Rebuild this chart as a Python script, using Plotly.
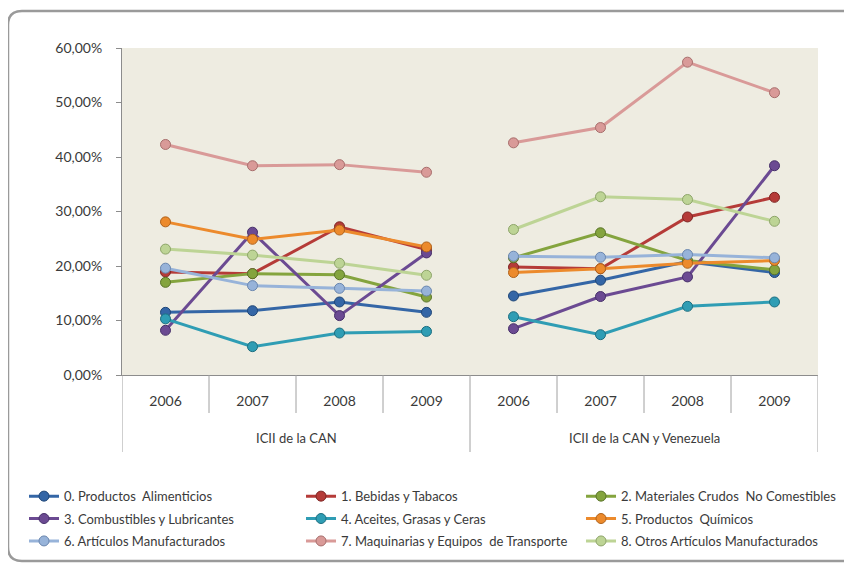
import plotly.graph_objects as go

# ---------------- data ----------------
years = ["2006", "2007", "2008", "2009"]
groups = ["ICII de la CAN", "ICII de la CAN y Venezuela"]

names = [
    "0. Productos  Alimenticios",
    "1. Bebidas y Tabacos",
    "2. Materiales Crudos  No Comestibles",
    "3. Combustibles y Lubricantes",
    "4. Aceites, Grasas y Ceras",
    "5. Productos  Químicos",
    "6. Artículos Manufacturados",
    "7. Maquinarias y Equipos  de Transporte",
    "8. Otros Artículos Manufacturados",
]

# values (%) : first 4 = ICII de la CAN, last 4 = ICII de la CAN y Venezuela
alimenticios = [11.5, 11.8, 13.4, 11.5, 14.5, 17.4, 20.8, 18.8]
bebidas = [18.9, 18.6, 27.2, 23.0, 19.8, 19.5, 29.0, 32.6]
materiales = [17.0, 18.6, 18.4, 14.3, 21.5, 26.1, 21.0, 19.3]
combustibles = [8.2, 26.2, 10.9, 22.4, 8.5, 14.4, 18.0, 38.4]
aceites = [10.3, 5.2, 7.7, 8.0, 10.7, 7.4, 12.6, 13.4]
quimicos = [28.1, 24.9, 26.6, 23.5, 18.8, 19.5, 20.5, 21.0]
articulos = [19.6, 16.4, 15.9, 15.4, 21.8, 21.6, 22.1, 21.5]
maquinarias = [42.3, 38.4, 38.6, 37.2, 42.6, 45.4, 57.4, 51.8]
otros = [23.1, 22.0, 20.5, 18.3, 26.7, 32.7, 32.2, 28.2]

series = [alimenticios, bebidas, materiales, combustibles, aceites,
          quimicos, articulos, maquinarias, otros]

colors = ["#3466A6", "#B53B38", "#84A43E", "#6B4A92", "#2F9DB4",
          "#EC8A2C", "#97B3D9", "#D99A98", "#BDD495"]
edge = ["#1F4677", "#7E2523", "#5A7428", "#47306A", "#1C6E80",
        "#B0621A", "#6A86AE", "#A86E6C", "#8EA56A"]

y_ticks = [0, 10, 20, 30, 40, 50, 60]
y_tick_labels = [f"{v:.2f}%".replace(".", ",") for v in y_ticks]

# ---------------- figure ----------------
n_years = len(years)
positions = list(range(n_years * len(groups)))
tick_text = years * len(groups)

fig = go.Figure()
legend_ids = ["legend", "legend2", "legend3"]
for i, (nm, vals) in enumerate(zip(names, series)):
    for g in range(len(groups)):
        xs = positions[g * n_years:(g + 1) * n_years]
        ys = vals[g * n_years:(g + 1) * n_years]
        fig.add_trace(go.Scatter(
            x=xs, y=ys, name=nm, mode="lines+markers",
            line=dict(color=colors[i], width=3),
            marker=dict(size=10, color=colors[i],
                        line=dict(color=edge[i], width=1)),
            legendgroup=nm, showlegend=(g == 0),
            legend=legend_ids[i % 3],
        ))

# category table lines (year separators and group dividers)
shapes = []
for k in range(len(positions) + 1):
    b = k - 0.5
    is_group = (k % n_years == 0)
    shapes.append(dict(type="line", xref="x", yref="paper",
                       x0=b, x1=b, y0=0, y1=(-0.2355 if is_group else -0.1162),
                       line=dict(color="#A0A0A0", width=1)))

# outer rounded frame (right side runs past the visible page, as in the original)
X0, X1, Y0, Y1, r = -114, 780, -186, 364, 14
path = (f"M {X0 + r},{Y1} L {X1 - r},{Y1} Q {X1},{Y1} {X1},{Y1 - r} "
        f"L {X1},{Y0 + r} Q {X1},{Y0} {X1 - r},{Y0} L {X0 + r},{Y0} "
        f"Q {X0},{Y0} {X0},{Y0 + r} L {X0},{Y1 - r} Q {X0},{Y1} {X0 + r},{Y1} Z")
shapes.append(dict(type="path", path=path, xref="paper", yref="paper",
                   xsizemode="pixel", ysizemode="pixel", xanchor=0, yanchor=0,
                   line=dict(color="#9A9A9A", width=2.5), layer="below"))

annotations = []
for g, gname in enumerate(groups):
    center = (positions[g * n_years] + positions[(g + 1) * n_years - 1]) / 2
    annotations.append(dict(x=center, y=-0.193, xref="x", yref="paper",
                            text=gname, showarrow=False, yanchor="middle",
                            font=dict(family="Lato", size=13, color="#3A3A3A")))

legend_common = dict(orientation="v", yanchor="top", xanchor="left",
                     font=dict(family="Lato", size=13, color="#3A3A3A"),
                     bgcolor="rgba(0,0,0,0)", tracegroupgap=2.5, itemwidth=30)

# page body has an 8px margin: figure is sized/offset to compensate
fig.update_layout(
    width=844, height=558, autosize=False,
    margin=dict(l=114, r=34, t=40, b=191, autoexpand=False),
    paper_bgcolor="white", plot_bgcolor="#EEECE1",
    font=dict(family="Lato", size=13, color="#3A3A3A"),
    xaxis=dict(range=[-0.5, len(positions) - 0.5], tickmode="array",
               tickvals=positions, ticktext=tick_text, ticks="",
               ticklabelstandoff=13, showgrid=False, zeroline=False,
               showline=True, linecolor="#8C8C8C", linewidth=1,
               tickfont=dict(family="Lato", size=14, color="#3A3A3A")),
    yaxis=dict(range=[0, 60], tickmode="array", tickvals=y_ticks,
               ticktext=y_tick_labels, ticks="outside", ticklen=5,
               ticklabelstandoff=11,
               tickcolor="#8C8C8C", showgrid=False, zeroline=False,
               showline=True, linecolor="#8C8C8C", linewidth=1,
               tickfont=dict(family="Lato", size=14, color="#3A3A3A")),
    shapes=shapes, annotations=annotations,
    legend=dict(x=-0.1408, y=-0.3247, **legend_common),
    legend2=dict(x=0.2572, y=-0.3247, **legend_common),
    legend3=dict(x=0.6595, y=-0.3247, **legend_common),
)

fig.write_html("out.html")
